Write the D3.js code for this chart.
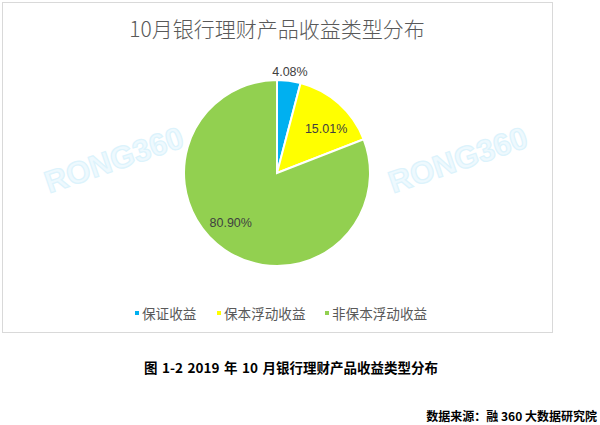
<!DOCTYPE html>
<html>
<head>
<meta charset="utf-8">
<script src="https://cdn.jsdelivr.net/npm/d3@7/dist/d3.min.js"></script>
<style>
  html, body { margin: 0; padding: 0; background: #fff; }
  svg { display: block; }
</style>
</head>
<body>
<svg id="chart" width="600" height="425"></svg>
<script>
// Income-type shares of bank wealth-management products, October
const categories = ["保证收益", "保本浮动收益", "非保本浮动收益"];
const shares = [4.08, 15.01, 80.90];
const colors = ["#00b0f0", "#ffff00", "#92d050"];
const chartTitle = "10月银行理财产品收益类型分布";
const caption = "图 1-2 2019 年 10 月银行理财产品收益类型分布";
const source = "数据来源：融 360 大数据研究院";
const watermark = "RONG360";

const svg = d3.select("#chart");
const font = "'Noto Sans CJK SC', 'Microsoft YaHei', sans-serif";

// chart frame
svg.append("rect")
  .attr("x", 2.5).attr("y", 2.5)
  .attr("width", 550).attr("height", 330)
  .attr("fill", "#fff").attr("stroke", "#d9d9d9").attr("stroke-width", 1);

// faint watermarks
[[114, 160], [458, 160]].forEach(([x, y]) => {
  svg.append("text")
    .attr("transform", `translate(${x},${y}) rotate(-19)`)
    .attr("text-anchor", "middle")
    .attr("dominant-baseline", "central")
    .attr("font-family", "Arial, 'Liberation Sans', sans-serif")
    .attr("font-weight", "bold")
    .attr("font-size", 31)
    .attr("fill", "#eef9fe")
    .attr("stroke", "#dcf3fc")
    .attr("stroke-width", 1.2)
    .text(watermark);
});

// title
svg.append("text")
  .attr("x", 277).attr("y", 37)
  .attr("text-anchor", "middle")
  .attr("font-family", font)
  .attr("font-weight", 300)
  .attr("font-size", 21)
  .attr("fill", "#595959")
  .text(chartTitle);

// pie
const cx = 277, cy = 173, r = 93;
const pie = d3.pie().sort(null).value(d => d)(shares);
const arc = d3.arc().innerRadius(0).outerRadius(r);
const g = svg.append("g").attr("transform", `translate(${cx},${cy})`);

g.selectAll("path")
  .data(pie)
  .join("path")
  .attr("d", arc)
  .attr("fill", (d, i) => colors[i])
  .attr("stroke", "#fff")
  .attr("stroke-width", 2);

// data labels: the small slice is labelled just outside the rim, the others inside
const labelPlace = [
  { rad: 1.09, da: 0 },
  { rad: 0.71, da: 0.11 },
  { rad: 0.73, da: 0.15 }
];
g.selectAll("text.lbl")
  .data(pie)
  .join("text")
  .attr("class", "lbl")
  .each(function (d, i) {
    const p = labelPlace[i];
    const a = (d.startAngle + d.endAngle) / 2 + p.da;
    d3.select(this)
      .attr("x", Math.sin(a) * r * p.rad)
      .attr("y", -Math.cos(a) * r * p.rad);
  })
  .attr("text-anchor", "middle")
  .attr("dominant-baseline", "central")
  .attr("font-family", "'Liberation Sans', Arial, sans-serif")
  .attr("font-size", 12.5)
  .attr("fill", "#404040")
  .text(d => d.data.toFixed(2) + "%");

// legend
const legendX = [135, 217, 325];
const legend = svg.append("g");
categories.forEach((c, i) => {
  legend.append("rect")
    .attr("x", legendX[i]).attr("y", 311)
    .attr("width", 4).attr("height", 4)
    .attr("fill", colors[i]);
  legend.append("text")
    .attr("x", legendX[i] + 7).attr("y", 313)
    .attr("dominant-baseline", "central")
    .attr("font-family", font)
    .attr("font-size", 13.6)
    .attr("fill", "#595959")
    .text(c);
});

// caption beneath the chart
svg.append("text")
  .attr("x", 144).attr("y", 367)
  .attr("dominant-baseline", "central")
  .attr("font-family", font)
  .attr("font-weight", "bold")
  .attr("font-size", 13.5)
  .attr("word-spacing", 1.5)
  .attr("fill", "#000")
  .text(caption);

// data source
svg.append("text")
  .attr("x", 597).attr("y", 415)
  .attr("text-anchor", "end")
  .attr("dominant-baseline", "central")
  .attr("font-family", font)
  .attr("font-weight", "bold")
  .attr("font-size", 12)
  .attr("fill", "#000")
  .text(source);
</script>
</body>
</html>
